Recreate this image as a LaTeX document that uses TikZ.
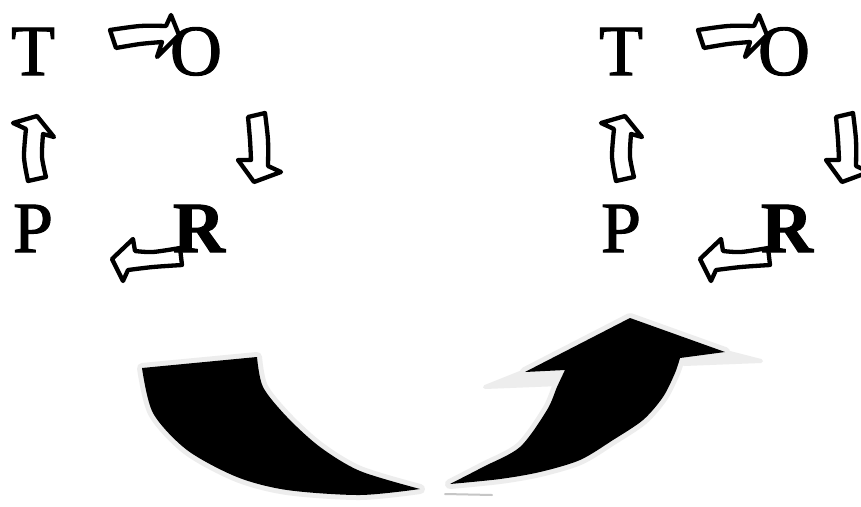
\documentclass[tikz,border=0pt]{standalone}
\usepackage{fontspec}
\setmainfont{Liberation Serif}
\newfontfamily\letterfont[FakeBold=1.5]{Liberation Serif}
\begin{document}
\begin{tikzpicture}[x=1pt,y=-1pt,
  letter/.style={inner sep=0pt,anchor=base,font=\fontsize{72}{72}\letterfont},
  smallarrow/.style={draw=black,fill=white,line width=4.3pt,line join=round},
  bigborder/.style={draw=gray!14,fill=gray!14,line width=10pt,line join=round},
  bigfill/.style={fill=black}]
\clip (0,0) rectangle (861,506);
\fill[white] (0,0) rectangle (861,506);

\newcommand{\cyclegroup}[2]{%
  \begin{scope}[xshift=#1pt]
    % T -> O
    \path[smallarrow] (110,30) -- plot[smooth] coordinates {(110,30) (140,26) (166,26)}
      -- (171,15) -- (179,35) -- (157,57) -- (162,42)
      -- plot[smooth] coordinates {(162,42) (140,44) (116,48)} -- cycle;
    % O -> R
    \path[smallarrow] (248,117) -- (265,113)
      -- plot[smooth] coordinates {(265,113) (268,140) (268,166)}
      -- (281,172) -- (254,182) -- (238,160) -- (251,160)
      -- plot[smooth] coordinates {(251,160) (250,140) (248,117)} -- cycle;
    % R -> P
    \path[smallarrow] (180,248) -- plot[smooth] coordinates {(180,248) (153,252) (135,251)}
      -- (133,239) -- (112,259) -- (123,281) -- (128,270)
      -- plot[smooth] coordinates {(128,270) (153,267) (182,265)} -- cycle;
    % P -> T
    \path[smallarrow] (28,181) -- plot[smooth] coordinates {(28,181) (24,157) (26,129)}
      -- (13,123) -- (37,116) -- (54,137) -- (43,134)
      -- plot[smooth] coordinates {(43,134) (42,157) (46,177)} -- cycle;
    \node[letter] (T#2) at (33,75) {T};
    \node[letter] (O#2) at (196,75) {O};
    \node[letter] (P#2) at (33,252) {P};
    \node[letter,font=\fontsize{72}{72}\letterfont\bfseries] (R#2) at (199,252) {R};
  \end{scope}}

\cyclegroup{0}{1}
\cyclegroup{588}{2}

% big ribbon arrow: descending part
\path[bigborder] (142,368) -- (257,357)
  -- plot[smooth] coordinates {(257,357) (263,387) (287,417) (320,447) (360,471) (420,489)}
  -- plot[smooth] coordinates {(420,489) (360,495) (287,490) (237,477) (187,450) (153,413) (142,368)} -- cycle;
\path[bigfill] (142,368) -- (257,357)
  -- plot[smooth] coordinates {(257,357) (263,387) (287,417) (320,447) (360,471) (420,489)}
  -- plot[smooth] coordinates {(420,489) (360,495) (287,490) (237,477) (187,450) (153,413) (142,368)} -- cycle;
% big ribbon arrow: rising part with head
\path[bigborder] (450,484)
  -- plot[smooth] coordinates {(450,484) (483,467) (520,447) (547,410) (557,387) (565,370)}
  -- (525,372) -- (630,318) -- (725,352) -- (680,358)
  -- plot[smooth] coordinates {(680,358) (675,373) (663,397) (643,420) (613,440) (580,460) (540,472) (500,479) (450,484)} -- cycle;
\path[bigborder,line width=4pt] (530,369) -- (485,387) -- (560,384) -- (565,371) -- cycle;
\path[bigborder,line width=4pt] (722,351) -- (761,361) -- (684,364) -- (680,358) -- cycle;
\path[bigfill] (450,484)
  -- plot[smooth] coordinates {(450,484) (483,467) (520,447) (547,410) (557,387) (565,370)}
  -- (525,372) -- (630,318) -- (725,352) -- (680,358)
  -- plot[smooth] coordinates {(680,358) (675,373) (663,397) (643,420) (613,440) (580,460) (540,472) (500,479) (450,484)} -- cycle;
\draw[gray!45,line width=2pt,line cap=round] (445,494) -- (492,495);
\end{tikzpicture}
\end{document}
